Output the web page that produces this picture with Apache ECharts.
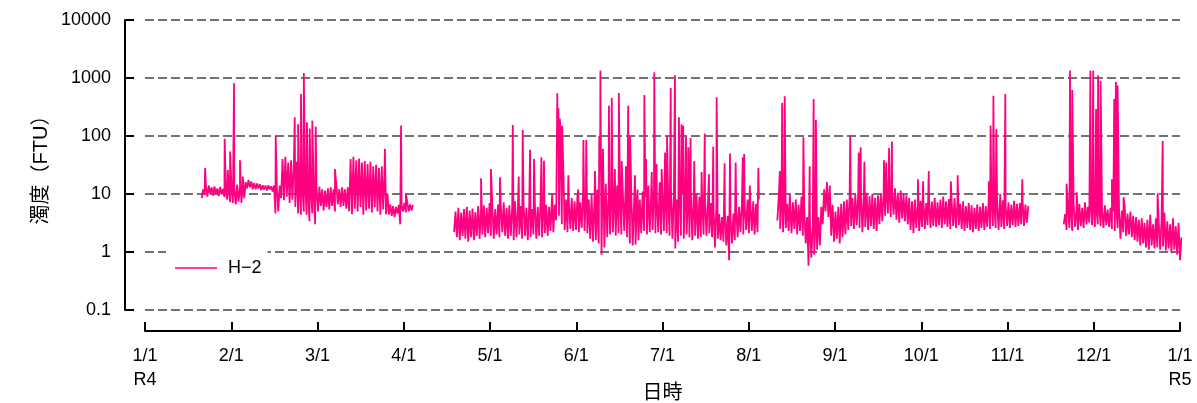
<!DOCTYPE html>
<html>
<head>
<meta charset="utf-8">
<script src="https://cdn.jsdelivr.net/npm/echarts@6/dist/echarts.min.js"></script>
<style>
html,body{margin:0;padding:0;background:#fff;}
#chart{width:1197px;height:403px;}
</style>
</head>
<body>
<div id="chart"></div>
<script>
// ---- DATA ----
// x in days since 1/1 (R4); each segment: start day, daily low and high levels of the noisy band
const seriesName = 'H\u22122';
const xTickLabels = ['1/1\nR4','2/1','3/1','4/1','5/1','6/1','7/1','8/1','9/1','10/1','11/1','12/1','1/1\nR5'];
const yTickLabels = ['0.1','1','10','100','1000','10000'];

const seg1Start = 20;
const seg1Lo = [8.5,9.6,9.0,10.2,9.4,10.0,9.2,9.8,8.8,8.0,7.2,7.0,6.6,7.4,7.0,8.5,12.5,13.0,12.2,12.0,12.4,11.6,12.0,11.5,12.0,11.0,4.6,5.0,8.5,7.8,9.0,7.0,8.0,6.0,4.6,4.4,5.0,4.4,3.4,4.6,3.0,5.0,6.2,5.2,6.0,5.4,6.2,5.0,6.6,6.0,6.2,5.6,5.0,4.5,5.6,5.0,6.0,4.4,5.2,5.6,4.8,6.0,5.0,4.4,5.4,4.5,4.4,4.2,4.0,4.6,3.0,5.0,4.8,5.0,5.2];
const seg1Hi = [12,13.5,14,13,13.5,12.5,13.2,12.2,13,14,13,12,14.5,13,15,16,17.5,16.5,15.5,15.2,14.8,14.2,14.0,14.2,13.6,14.0,13,14,40,44,35,38,33,36,13,12,14,12,11,13,12,13.5,12,11.5,12.5,13,12,14,12.2,13,12,13,40,44,38,41,35,37,33,36,30,32,28,30,28,10,6.6,6.2,6.0,6.5,6.4,7.0,7.2,6.6,6.5];

const seg2Start = 109;
const seg2Lo = [2.2,1.8,1.6,1.9,1.7,1.5,1.8,1.6,1.9,1.7,2.0,1.8,2.1,1.9,1.7,2.0,1.8,2.2,1.9,1.7,1.9,1.6,1.8,2.0,1.7,1.9,1.6,1.8,2.0,1.7,1.9,1.8,2.1,1.9,2.3,2.2,3.5,4.2,3.0,2.4,2.2,2.5,2.3,2.4,2.2,2.6,2.3,2.1,1.7,1.5,1.6,1.4,0.9,1.2,1.8,2.0,2.2,1.9,2.1,2.0,2.3,1.8,1.4,1.3,1.35,1.6,2.1,2.3,2.0,2.2,2.4,2.1,2.2,2.0,2.3,2.1,1.9,1.7,1.15,1.5,1.9,1.7,2.0,1.8,1.6,1.9,1.7,1.8,2.0,1.9,2.1,1.8,1.2,1.7,1.6,1.5,1.3,0.72,1.4,1.6,1.8,2.2,2.0,2.4,2.1,2.3,2.0,2.2];
const seg2Hi = [5.0,5.8,4.8,5.5,6.0,5.2,5.6,4.9,6.2,5.4,6.4,5.8,7.0,6.0,5.5,6.6,6.0,7.2,5.8,6.4,6.0,7.5,5.6,6.2,7.0,5.8,6.5,5.5,6.8,6.0,7.8,5.9,6.5,6.0,8.0,6.5,60,120,30,8.0,7.0,8.5,7.5,9.0,7.2,11,9.5,8.0,10,7.5,12,25,60,15,9.0,12,10,14,9.5,11,13,8.5,10,7.5,9.0,8.0,11,9.0,14,10,12,9.0,16,10,13,9.5,12,9.0,8.0,14,10,12,9.0,11,8.5,10,9.0,7.5,8.5,6.5,7.0,5.8,6.2,4.5,4.0,5.0,4.2,3.8,4.6,5.5,6.0,7.0,6.2,8.0,6.5,7.5,6.8,8.0];

const seg3Start = 223;
const seg3Lo = [3.5,2.5,2.2,2.6,2.3,2.1,2.5,2.0,2.3,1.9,1.4,0.58,0.8,0.9,1.1,1.3,3.0,5.0,4.0,1.9,1.5,1.7,1.4,1.8,2.0,2.4,2.8,2.5,2.9,2.6,2.2,2.7,2.4,2.8,2.5,2.3,3.0,3.4,4.2,4.6,4.0,4.4,3.6,3.2,3.8,3.4,3.0,2.4,2.1,2.6,2.3,2.7,2.5,2.9,2.6,2.8,2.7,2.9,2.6,3.0,2.7,2.5,2.8,2.6,2.9,2.5,2.3,2.6,2.4,2.2,2.5,2.3,2.6,2.4,2.7,2.5,2.8,2.6,2.4,2.7,2.5,2.8,2.6,2.9,2.7,2.8,3.0,2.8,3.2];
const seg3Hi = [9.0,7.5,8.5,6.8,10,7.2,8.0,6.5,9.0,5.5,4.0,3.0,3.2,3.6,4.0,6.0,12,16,14,6.5,5.0,6.0,6.8,7.5,8.0,9.5,8.5,10,9.0,11,8.8,10.5,9.2,10,8.5,9.5,10,11,12,14,11,12.5,10.5,11.5,10,9.5,8.5,7.5,8.0,6.8,7.6,8.2,7.0,8.0,7.4,8.5,7.2,8.0,9.0,7.5,8.2,7.0,8.5,7.2,6.8,7.5,6.2,7.0,6.4,5.8,6.6,6.0,7.0,6.2,6.8,7.5,6.4,8.0,7.0,7.8,6.5,7.2,6.6,7.6,6.8,7.0,7.5,6.6,6.2];

const seg4Start = 324;
const seg4Lo = [3.0,2.4,2.6,2.3,2.7,2.4,2.8,2.6,3.0,3.2,2.9,2.7,3.0,2.8,2.6,2.9,2.7,2.5,2.3,2.6,1.7,2.2,1.9,2.0,1.8,1.6,1.5,1.3,1.4,1.2,1.1,1.3,1.15,1.2,1.1,1.25,1.05,1.15,0.95,1.1,0.9,0.72];
const seg4Hi = [4.5,6.0,5.2,6.5,5.4,6.8,5.8,7.2,6.0,7.5,6.2,5.6,6.0,5.2,6.4,5.4,5.8,5.0,6.6,5.6,5.2,6.0,4.6,5.0,4.2,4.0,3.6,3.8,3.2,3.6,4.4,3.0,3.8,3.2,3.6,4.8,3.4,3.0,3.8,2.8,3.2,1.8];

// isolated peaks: [day, FTU]
const spikes = [
  [21.2,28],[28.1,90],[29.2,26],[30.0,54],[31.4,810],[33.5,38],[34.5,20],[46.1,100],
  [52.8,210],[54.0,160],[55.0,530],[56.0,1220],[57.1,172],[58.1,135],[59.0,184],[60.2,146],
  [67.0,27],[84.6,60],[90.3,151],[92.0,10],
  [118.5,18.6],[122.0,27],[125.2,19.4],[129.7,155],[131.8,20],[133.2,127],[135.8,58],[137.2,40],
  [139.8,43],[140.7,37.5],[143.6,10],[145.4,545],[145.8,300],[146.3,200],[147.1,150],[149.3,21],
  [152.8,12],[154.6,85],[155.6,85],[158.7,25],[160.2,100],[160.6,1340],[163.6,333],
  [164.6,452],[165.7,27],[167.1,550],[168.1,37],[169.6,30],[170.4,333],[171.1,100],[172.8,21],
  [173.7,12],[176.1,510],[176.7,40],[178.7,24],[179.6,1250],[180.4,33],[182.2,27],[183.4,52],
  [184.1,100],[185.4,673],[186.9,1120],[188.3,210],[189.2,160],[189.8,150],[190.8,98],[191.6,64],
  [192.4,92],[193.7,37],[196.3,24],[197.4,110],[198.9,22],[200.4,65],[201.6,464],[204.4,34],
  [206.3,50],[208.3,35],[210.8,43],[211.3,49],[213.3,14],[216.3,28],
  [223.9,25],[224.7,371],[225.6,483],[227.4,10],[232.2,95],[234.4,30],[235.8,435],[236.6,189],
  [248.7,100],[251.7,52],[252.4,64],[253.7,36],[260.6,38],[261.4,35],[262.4,62],[263.4,80],
  [272.6,18],[274.4,16.5],[276.4,25],[284.2,16.5],[286.6,21],[297.6,16.5],[298.2,151],[299.2,495],
  [300.2,131],[301.6,10],[303.4,530],[309.4,18],
  [325.0,15],[326.2,1340],[327.0,621],[328.6,10.7],[333.4,1340],[334.4,1340],[335.4,292],[336.1,1100],
  [337.0,900],[341.0,18],[341.8,435],[342.4,850],[343.0,740],[345.1,8.8],[357.1,10.3],[358.9,82]
];

// ---- build the line data from the arrays above ----
function buildSegment(start, lo, hi) {
  const pts = [];
  for (let i = 0; i < lo.length; i++) {
    pts.push([start + i, lo[i]]);
    pts.push([start + i + 0.5, hi[i]]);
  }
  const end = start + lo.length;
  spikes.forEach(s => { if (s[0] >= start && s[0] <= end) pts.push([s[0], s[1]]); });
  pts.sort((a, b) => a[0] - b[0]);
  return pts;
}
const segs = [
  buildSegment(seg1Start, seg1Lo, seg1Hi),
  buildSegment(seg2Start, seg2Lo, seg2Hi),
  buildSegment(seg3Start, seg3Lo, seg3Hi),
  buildSegment(seg4Start, seg4Lo, seg4Hi)
];
let lineData = [];
segs.forEach((s, i) => {
  if (i > 0) lineData.push([s[0][0] - 1, '-']);
  lineData = lineData.concat(s);
});

const xTickValues = xTickLabels.map((_, i) => i * 365 / 12);
const FONT = '"Liberation Sans", "Noto Sans CJK JP", sans-serif';

const chart = echarts.init(document.getElementById('chart'), null, {renderer: 'canvas'});
chart.setOption({
  animation: false,
  backgroundColor: '#fff',
  textStyle: {fontFamily: FONT, color: '#000'},
  grid: {left: 145, right: 17, top: 20, bottom: 93, containLabel: false, outerBoundsMode: 'none'},
  legend: {
    left: 166, top: 246,
    padding: [13, 6, 10, 9],
    backgroundColor: '#fff',
    itemWidth: 42, itemHeight: 1.5,
    icon: 'rect',
    textStyle: {fontSize: 18, color: '#000', fontFamily: FONT, padding: [0, 0, 0, 6]},
    data: [{name: seriesName, icon: 'rect'}]
  },
  xAxis: {
    type: 'value', min: 0, max: 365, offset: 21,
    axisLine: {show: true, onZero: false, lineStyle: {color: '#000', width: 2}},
    axisTick: {show: true, inside: true, length: 9, customValues: xTickValues, lineStyle: {color: '#000', width: 2}},
    axisLabel: {
      customValues: xTickValues, fontSize: 18, color: '#000', lineHeight: 24, margin: 13, fontFamily: FONT,
      formatter: v => xTickLabels[Math.round(v * 12 / 365)]
    },
    splitLine: {show: false},
    name: '日時', nameLocation: 'middle', nameGap: 52, nameMoveOverlap: false,
    nameTextStyle: {fontSize: 20, color: '#000', fontFamily: FONT}
  },
  yAxis: {
    type: 'log', logBase: 10, min: 0.1, max: 10000, offset: 20,
    axisLine: {show: true, onZero: false, lineStyle: {color: '#000', width: 2}},
    axisTick: {show: true, inside: true, length: 9, lineStyle: {color: '#000', width: 2}},
    axisLabel: {
      fontSize: 18, color: '#000', margin: 14, fontFamily: FONT,
      formatter: v => yTickLabels[Math.round(Math.log10(v)) + 1]
    },
    splitLine: {show: true, lineStyle: {color: '#444', width: 1.5, type: [9, 4]}},
    name: '濁度（FTU）', nameLocation: 'middle', nameGap: 74, nameMoveOverlap: false,
    nameTextStyle: {fontSize: 20, color: '#000', fontFamily: FONT}
  },
  series: [{
    type: 'line', name: seriesName, data: lineData,
    symbol: 'none', showSymbol: false, connectNulls: false,
    lineStyle: {color: '#ff0080', width: 1.8},
    itemStyle: {color: '#ff0080'},
    emphasis: {disabled: true}
  }]
});
</script>
</body>
</html>
